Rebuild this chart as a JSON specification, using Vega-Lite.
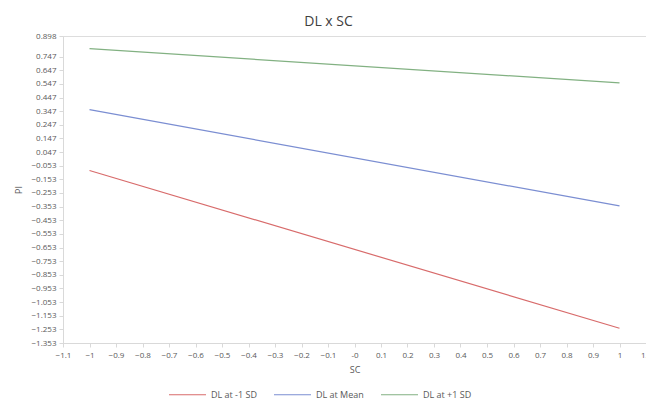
{
  "$schema": "https://vega.github.io/schema/vega-lite/v6.json",
  "width": 583,
  "height": 307,
  "autosize": {"type": "none"},
  "padding": {"left": 63, "top": 36, "right": 0, "bottom": 64},
  "background": "white",
  "title": {"text": "DL x SC", "fontSize": 14, "fontWeight": "normal", "font": "Open Sans", "color": "#404040", "offset": 3, "dx": -26},
  "data": {"values": [
    {"series": "DL at -1 SD", "SC": -1, "PI": -0.088},
    {"series": "DL at -1 SD", "SC": 1, "PI": -1.245},
    {"series": "DL at Mean", "SC": -1, "PI": 0.358},
    {"series": "DL at Mean", "SC": 1, "PI": -0.348},
    {"series": "DL at +1 SD", "SC": -1, "PI": 0.805},
    {"series": "DL at +1 SD", "SC": 1, "PI": 0.554}
  ]},
  "mark": {"type": "line", "strokeWidth": 1.2},
  "encoding": {
    "x": {"field": "SC", "type": "quantitative",
      "scale": {"domain": [-1.1, 1.1], "nice": false, "zero": false},
      "axis": {"title": "SC", "values": [-1.1,-1,-0.9,-0.8,-0.7,-0.6,-0.5,-0.4,-0.3,-0.2,-0.1,0,0.1,0.2,0.3,0.4,0.5,0.6,0.7,0.8,0.9,1,1.1],
        "labelExpr": "abs(datum.value) < 1e-9 ? '-0' : format(datum.value, '.2~')",
        "grid": false, "domainColor": "#d9d9d9", "tickColor": "#d9d9d9", "tickSize": 4,
        "labelFont": "Open Sans", "labelFontSize": 8, "labelColor": "#595959", "labelPadding": 4, "labelFlush": false, "labelOverlap": false,
        "titleFont": "Open Sans", "titleFontSize": 9, "titleFontWeight": "normal", "titleColor": "#595959", "titlePadding": 6}},
    "y": {"field": "PI", "type": "quantitative",
      "scale": {"domain": [-1.353, 0.898], "nice": false, "zero": false},
      "axis": {"title": "PI", "values": [0.898,0.747,0.647,0.547,0.447,0.347,0.247,0.147,0.047,-0.053,-0.153,-0.253,-0.353,-0.453,-0.553,-0.653,-0.753,-0.853,-0.953,-1.053,-1.153,-1.253,-1.353],
        "format": ".3f", "grid": false, "domainColor": "#d9d9d9", "tickColor": "#d9d9d9", "tickSize": 4,
        "labelFont": "Open Sans", "labelFontSize": 8, "labelColor": "#595959", "labelPadding": 3, "labelFlush": false, "labelOverlap": false,
        "titleFont": "Open Sans", "titleFontSize": 9, "titleFontWeight": "normal", "titleColor": "#595959", "titlePadding": 8}},
    "color": {"field": "series", "type": "nominal",
      "scale": {"domain": ["DL at -1 SD", "DL at Mean", "DL at +1 SD"], "range": ["#d86b6b", "#7b8ed2", "#82b182"]},
      "legend": {"title": null, "orient": "none", "direction": "horizontal", "legendX": 105, "legendY": 339,
        "symbolType": "stroke", "symbolSize": 1369, "symbolStrokeWidth": 1.2, "labelFont": "Open Sans", "labelFontSize": 9, "labelColor": "#595959", "columnPadding": 14, "labelOffset": 4}}
  }
}
